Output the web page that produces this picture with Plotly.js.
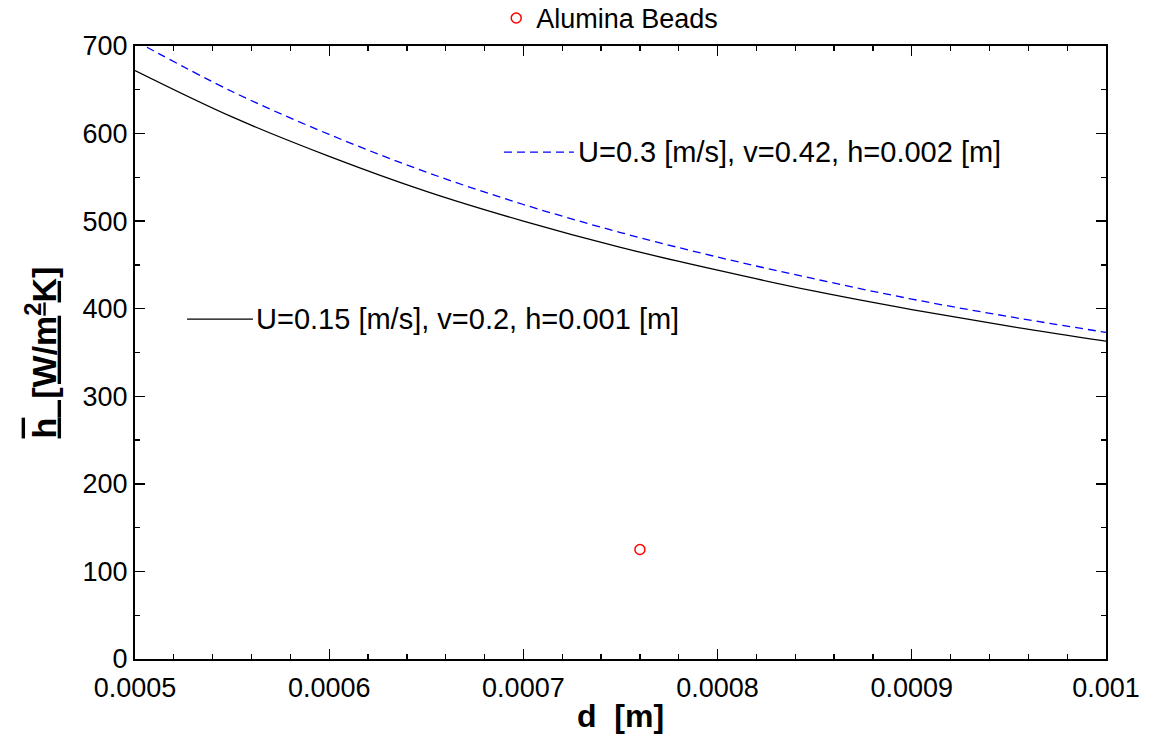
<!DOCTYPE html>
<html><head><meta charset="utf-8">
<script src="https://cdn.plot.ly/plotly-3.0.1.min.js"></script>
<style>body{margin:0;background:#fff}</style>
</head><body><div id="chart" style="width:1155px;height:744px"></div>
<script>
const diameter = [0.0005,0.00055,0.0006,0.00065,0.0007,0.00075,0.0008,0.00085,0.0009,0.00095,0.001];
const hLow  = [672,619,574,534,500,470,444,420,399,380,363];
const hHigh = [706,648,599,556,519,487,459,434,411,391,373];
const beadD = [0.00076];
const beadH = [125];
const xTickVals = [0.0005,0.0006,0.0007,0.0008,0.0009,0.001];
const xTickText = ['0.0005','0.0006','0.0007','0.0008','0.0009','0.001'];
const lowLabel = 'U=0.15 [m/s], v=0.2, h=0.001 [m]';
const highLabel = 'U=0.3 [m/s], v=0.42, h=0.002 [m]';
const beadLabel = 'Alumina Beads';

const FONT = 'Liberation Sans, Arial, sans-serif';

const traces = [
  {x: diameter, y: hLow, mode:'lines', line:{color:'#000000', width:1.3, shape:'spline'}, showlegend:false, name: lowLabel},
  {x: diameter, y: hHigh, mode:'lines', line:{color:'#0000ff', width:1.3, dash:'8px,5px', shape:'spline'}, showlegend:false, name: highLabel},
  {x: beadD, y: beadH, mode:'markers', name: beadLabel, marker:{symbol:'circle-open', size:10, color:'#ff0000', line:{width:1.5, color:'#ff0000'}}, showlegend:true}
];

const axisCommon = {
  showgrid:false, zeroline:false, showline:true, linecolor:'#000', linewidth:2,
  mirror:'allticks', ticks:'inside', ticklen:10, tickwidth:1.3, tickcolor:'#000',
  automargin:false,
  tickfont:{family:FONT, size:27, color:'#000'}
};

const layout = {
  width:1155, height:744,
  margin:{l:135, r:49, t:46, b:85, autoexpand:false},
  paper_bgcolor:'#fff', plot_bgcolor:'#fff',
  font:{family:FONT, color:'#000'},
  xaxis: Object.assign({}, axisCommon, {
    range:[0.0005,0.001], tickmode:'array', tickvals:xTickVals, ticktext:xTickText,
    ticklabelstandoff:4,
    minor:{dtick:0.00002, tick0:0.0005, ticks:'inside', ticklen:5, tickwidth:1.3, tickcolor:'#000'},
    title:{text:'<b>d  [m]</b>', font:{family:FONT, size:32, color:'#000'}, standoff:2}
  }),
  yaxis: Object.assign({}, axisCommon, {
    range:[0,700], dtick:100, tick0:0,
    minor:{dtick:50, ticks:'inside', ticklen:5, tickwidth:1.3, tickcolor:'#000'},
    title:{text:'<b><span style="text-decoration:overline underline">h</span><u>  [W/m<sup>2</sup>K]</u></b>', font:{family:FONT, size:34, color:'#000'}, standoff:16}
  }),
  legend:{x:0.372, y:1.045, xanchor:'left', yanchor:'middle', orientation:'h', bgcolor:'rgba(0,0,0,0)', font:{family:FONT, size:27, color:'#000'}},
  shapes:[
    {type:'line', xref:'paper', yref:'paper', x0:0.380, x1:0.452, y0:0.827, y1:0.827, line:{color:'#0000ff', width:1.3, dash:'8px,5px'}},
    {type:'line', xref:'paper', yref:'paper', x0:0.0536, x1:0.1215, y0:0.5546, y1:0.5546, line:{color:'#000', width:1.3}}
  ],
  annotations:[
    {text:highLabel, xref:'paper', yref:'paper', x:0.454, y:0.827, xanchor:'left', yanchor:'middle', showarrow:false, font:{family:FONT, size:29, color:'#000'}},
    {text:lowLabel, xref:'paper', yref:'paper', x:0.1225, y:0.5546, xanchor:'left', yanchor:'middle', showarrow:false, font:{family:FONT, size:29, color:'#000'}}
  ]
};

Plotly.newPlot('chart', traces, layout, {displayModeBar:false, staticPlot:true});
</script>
</body></html>
